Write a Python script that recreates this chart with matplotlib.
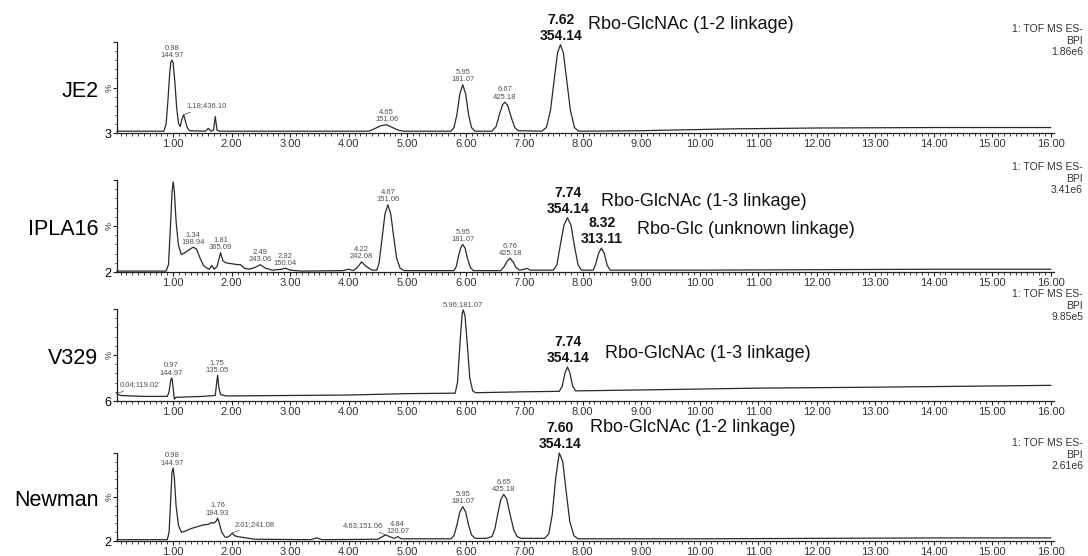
import numpy as np
import matplotlib.pyplot as plt
from matplotlib.ticker import MultipleLocator

plt.rcParams['font.family'] = ['Liberation Sans', 'DejaVu Sans']

# ---------------------------------------------------------------
# BPI chromatograms (retention time in min, relative intensity %)
# ---------------------------------------------------------------
samples = ['JE2', 'IPLA16', 'V329', 'Newman']
base_offsets = ['3', '2', '6', '2']
bpi_max = ['1.86e6', '3.41e6', '9.85e5', '2.61e6']

x_ticks = [1, 2, 3, 4, 5, 6, 7, 8, 9, 10, 11, 12, 13, 14, 15, 16]
x_tick_labels = ['1.00', '2.00', '3.00', '4.00', '5.00', '6.00', '7.00', '8.00',
                 '9.00', '10.00', '11.00', '12.00', '13.00', '14.00', '15.00', '16.00']

je2_trace = [
    (0.04, 2), (0.50, 2), (0.84, 2), (0.88, 10), (0.91, 35), (0.94, 65), (0.96, 78),
    (0.98, 80), (1.00, 77), (1.03, 55), (1.06, 28), (1.09, 11), (1.12, 7), (1.15, 15),
    (1.18, 20), (1.21, 13), (1.24, 6), (1.28, 2.5), (1.55, 2), (1.60, 5), (1.65, 2),
    (1.69, 3), (1.72, 18), (1.75, 3), (1.80, 2), (3.00, 2), (4.35, 2), (4.45, 5),
    (4.55, 8), (4.65, 9), (4.75, 6), (4.85, 3), (4.95, 2), (5.75, 2), (5.80, 6),
    (5.85, 20), (5.90, 43), (5.95, 53), (6.00, 43), (6.05, 20), (6.10, 6), (6.16, 2),
    (6.45, 2), (6.52, 7), (6.58, 21), (6.63, 31), (6.67, 34), (6.72, 30), (6.78, 17),
    (6.84, 6), (6.90, 2.5), (7.30, 2), (7.38, 6), (7.45, 25), (7.52, 62), (7.57, 88),
    (7.62, 97), (7.67, 88), (7.72, 62), (7.79, 25), (7.86, 6), (7.93, 2), (9.00, 2.5),
    (10.5, 4.5), (12.0, 5.5), (14.0, 6), (16.0, 6),
]

ipla16_trace = [
    (0.04, 1), (0.88, 1), (0.92, 8), (0.95, 45), (0.98, 86), (1.00, 98), (1.02, 88),
    (1.05, 55), (1.09, 29), (1.14, 19), (1.20, 21), (1.27, 24), (1.34, 27), (1.40, 25),
    (1.46, 15), (1.52, 7), (1.58, 4), (1.62, 3), (1.66, 7), (1.70, 3), (1.75, 6),
    (1.81, 21), (1.85, 12), (1.90, 10), (2.00, 9), (2.10, 8), (2.15, 8), (2.22, 4),
    (2.30, 3), (2.40, 5), (2.49, 8), (2.58, 4), (2.70, 2), (2.85, 3), (2.92, 4),
    (3.00, 2), (3.20, 1), (3.90, 1.5), (4.00, 3), (4.08, 1.5), (4.15, 5), (4.22, 11),
    (4.30, 6), (4.40, 2), (4.48, 2), (4.52, 10), (4.57, 36), (4.62, 63), (4.67, 73),
    (4.72, 63), (4.77, 38), (4.82, 15), (4.88, 4), (4.95, 1.5), (5.80, 1.5), (5.84, 6),
    (5.88, 18), (5.92, 27), (5.95, 30), (5.99, 26), (6.03, 15), (6.08, 5), (6.13, 1.5),
    (6.60, 1.5), (6.66, 6), (6.71, 12), (6.76, 15), (6.81, 11), (6.86, 5), (6.92, 2),
    (7.00, 3), (7.05, 4), (7.10, 2), (7.50, 2), (7.56, 8), (7.62, 30), (7.68, 51),
    (7.74, 59), (7.80, 51), (7.86, 28), (7.92, 8), (7.98, 2), (8.18, 2), (8.22, 8),
    (8.27, 20), (8.32, 26), (8.37, 20), (8.42, 7), (8.47, 2), (10.0, 2), (12.0, 2.5),
    (14.0, 3), (16.0, 3),
]

v329_trace = [
    (0.04, 8), (0.10, 6), (0.50, 5), (0.90, 5), (0.93, 10), (0.96, 23), (0.98, 25),
    (1.00, 14), (1.02, 2), (1.05, 4), (1.50, 5), (1.72, 6), (1.74, 18), (1.76, 28),
    (1.78, 15), (1.81, 7), (1.90, 5.5), (3.00, 6), (4.00, 6.5), (5.00, 8), (5.82, 8.5),
    (5.86, 20), (5.90, 60), (5.94, 95), (5.96, 99), (5.99, 92), (6.03, 60), (6.07, 25),
    (6.12, 11), (6.17, 9), (7.00, 10), (7.60, 10.5), (7.65, 16), (7.70, 31), (7.74, 37),
    (7.78, 31), (7.83, 16), (7.88, 11), (9.00, 12), (11.0, 14), (13.0, 15), (16.0, 17),
]

newman_trace = [
    (0.04, 1.5), (0.90, 1.5), (0.93, 10), (0.96, 50), (0.98, 78), (1.00, 83), (1.02, 72),
    (1.05, 40), (1.09, 18), (1.14, 10), (1.20, 11), (1.30, 14), (1.40, 16), (1.50, 18),
    (1.60, 19), (1.66, 21), (1.70, 20.5), (1.74, 23), (1.76, 26), (1.79, 20), (1.83, 10),
    (1.88, 5), (1.92, 4), (1.97, 6), (2.01, 9), (2.05, 6), (2.10, 5), (2.20, 4),
    (2.30, 3), (2.40, 2), (3.35, 1.5), (3.45, 3.5), (3.55, 1.5), (4.50, 2), (4.58, 5),
    (4.63, 7), (4.70, 5), (4.78, 3), (4.84, 5), (4.90, 2.5), (5.75, 2.5), (5.80, 6),
    (5.85, 18), (5.90, 33), (5.95, 39), (6.00, 33), (6.05, 18), (6.10, 7), (6.16, 3),
    (6.35, 3), (6.40, 4), (6.45, 5), (6.50, 14), (6.55, 31), (6.60, 47), (6.65, 53),
    (6.70, 48), (6.76, 30), (6.82, 13), (6.88, 5), (6.95, 3), (7.35, 3), (7.42, 8),
    (7.48, 30), (7.54, 72), (7.60, 100), (7.66, 90), (7.72, 55), (7.78, 22), (7.85, 6),
    (7.92, 2.5), (10.0, 2.5), (12.0, 3), (14.0, 3.5), (16.0, 3.5),
]

# annotated peaks: retention time, m/z, label style
je2_peaks = [('0.98', '144.97', 'stack'), ('1.18', '436.10', 'leader_r'),
             ('4.65', '151.06', 'stack'), ('5.95', '181.07', 'stack'),
             ('6.67', '425.18', 'stack')]
ipla16_peaks = [('1.34', '198.94', 'stack'), ('1.81', '365.09', 'stack'),
                ('2.49', '243.06', 'stack'), ('2.92', '150.04', 'stack'),
                ('4.22', '242.08', 'stack'), ('4.67', '151.06', 'stack'),
                ('5.95', '181.07', 'stack'), ('6.76', '425.18', 'stack')]
v329_peaks = [('0.04', '119.02', 'leader_r'), ('0.97', '144.97', 'stack'),
              ('1.75', '135.05', 'stack'), ('5.96', '181.07', 'inline')]
newman_peaks = [('0.98', '144.97', 'stack'), ('1.76', '194.93', 'stack'),
                ('2.01', '241.08', 'leader_r'), ('4.63', '151.06', 'leader_l'),
                ('4.84', '120.07', 'stack'), ('5.95', '181.07', 'stack'),
                ('6.65', '425.18', 'stack')]

# ribitol-phosphate glycoforms
je2_main = [('7.62', '354.14', 'Rbo-GlcNAc (1-2 linkage)')]
ipla16_main = [('7.74', '354.14', 'Rbo-GlcNAc (1-3 linkage)'),
               ('8.32', '313.11', 'Rbo-Glc (unknown linkage)')]
v329_main = [('7.74', '354.14', 'Rbo-GlcNAc (1-3 linkage)')]
newman_main = [('7.60', '354.14', 'Rbo-GlcNAc (1-2 linkage)')]

traces = [je2_trace, ipla16_trace, v329_trace, newman_trace]
peaks = [je2_peaks, ipla16_peaks, v329_peaks, newman_peaks]
mains = [je2_main, ipla16_main, v329_main, newman_main]

################################################################
# layout (pixels)
################################################################
W, H = 1088, 556
ax_left, ax_width = 117, 936.6
panel_px = [(42, 133), (180, 272), (309, 401), (453, 541)]   # (top, bottom)
tof_gap = [18, 18, 20, 15]                                    # text above axes top
name_offsets = [[(19.5, 14.5)], [(24, 12), (26, 13.7)], [(27, 9.4)], [(22, 18)]]

trace_col = '#2a2a2a'
lab_col = '#505050'


def apex(t, y, rt):
    sel = np.abs(t - rt) <= 0.03
    if sel.any():
        return y[sel].max()
    return y[np.argmin(np.abs(t - rt))]


fig = plt.figure(figsize=(W / 100, H / 100), dpi=100)

for k in range(4):
    top, bot = panel_px[k]
    ax = fig.add_axes([ax_left / W, 1 - bot / H, ax_width / W, (bot - top) / H])
    t, y = np.array(traces[k], dtype=float).T
    ax.plot(t, y, color=trace_col, lw=0.9, clip_on=False)

    ax.set_xlim(0.04, 16.05)
    ax.set_ylim(0, 100)
    for s in ['top', 'right']:
        ax.spines[s].set_visible(False)
    for s in ['left', 'bottom']:
        ax.spines[s].set_linewidth(0.9)
        ax.spines[s].set_color('#202020')

    ax.set_xticks(x_ticks, labels=x_tick_labels)
    ax.xaxis.set_minor_locator(MultipleLocator(0.1))
    ax.tick_params(axis='x', which='major', direction='out', length=3.2, width=0.8,
                   pad=1.2, labelsize=8, labelcolor='#333333', color='#202020')
    ax.tick_params(axis='x', which='minor', direction='out', length=1.8, width=0.6,
                   color='#202020')
    ax.set_yticks([0, 50, 100], labels=[base_offsets[k], '', ''])
    ax.yaxis.set_minor_locator(MultipleLocator(10))
    ax.tick_params(axis='y', which='major', direction='out', length=3, width=0.8,
                   pad=1, labelsize=9, color='#202020')
    ax.tick_params(axis='y', which='minor', direction='out', length=1.8, width=0.6,
                   color='#202020')

    # sample name and % marker on the y axis
    ax.annotate(samples[k], xy=(0, 0.46), xycoords='axes fraction', xytext=(-13.5, 0),
                textcoords='offset points', ha='right', va='center', fontsize=15.5)
    ax.annotate('%', xy=(0, 0.5), xycoords='axes fraction', xytext=(-6, 0),
                textcoords='offset points', ha='center', va='center', fontsize=6.5,
                rotation=90, color='#333333')

    # small peak labels
    for rt_s, mz, kind in peaks[k]:
        rt = float(rt_s)
        h = apex(t, y, rt)
        if kind == 'stack':
            ax.annotate(rt_s + '\n' + mz, xy=(rt, h), xytext=(0, 1),
                        textcoords='offset points', ha='center', va='bottom',
                        fontsize=5.5, color=lab_col, linespacing=1.05)
        elif kind == 'inline':
            ax.annotate(rt_s + ';' + mz, xy=(rt, h), xytext=(0, 1.5),
                        textcoords='offset points', ha='center', va='bottom',
                        fontsize=5.5, color=lab_col)
        else:
            dx = 2 if kind == 'leader_r' else -1.5
            ax.annotate(rt_s + ';' + mz, xy=(rt, h), xytext=(dx, 6.5),
                        textcoords='offset points',
                        ha='left' if kind == 'leader_r' else 'right', va='center',
                        fontsize=5.5, color=lab_col,
                        arrowprops=dict(arrowstyle='-', lw=0.5, color=lab_col,
                                        shrinkA=0, shrinkB=0))

    # glycoform peaks in bold with compound names
    for (rt_s, mz, name), (dx, dy) in zip(mains[k], name_offsets[k]):
        rt = float(rt_s)
        h = apex(t, y, rt)
        ax.annotate(rt_s + '\n' + mz, xy=(rt, h), xytext=(0.5, 1.5),
                    textcoords='offset points', ha='center', va='bottom',
                    fontsize=10, fontweight='bold', color='#111111', linespacing=1.15)
        ax.annotate(name, xy=(rt, h), xytext=(dx, dy), textcoords='offset points',
                    ha='left', va='center', fontsize=13, color='#111111')

    # detector trace info
    fig.text(1083 / W, 1 - (top - tof_gap[k]) / H, '1: TOF MS ES-\nBPI\n' + bpi_max[k],
             ha='right', va='top', fontsize=7.5, color='#333333', linespacing=1.2)

fig.savefig('out.png', dpi=100)
